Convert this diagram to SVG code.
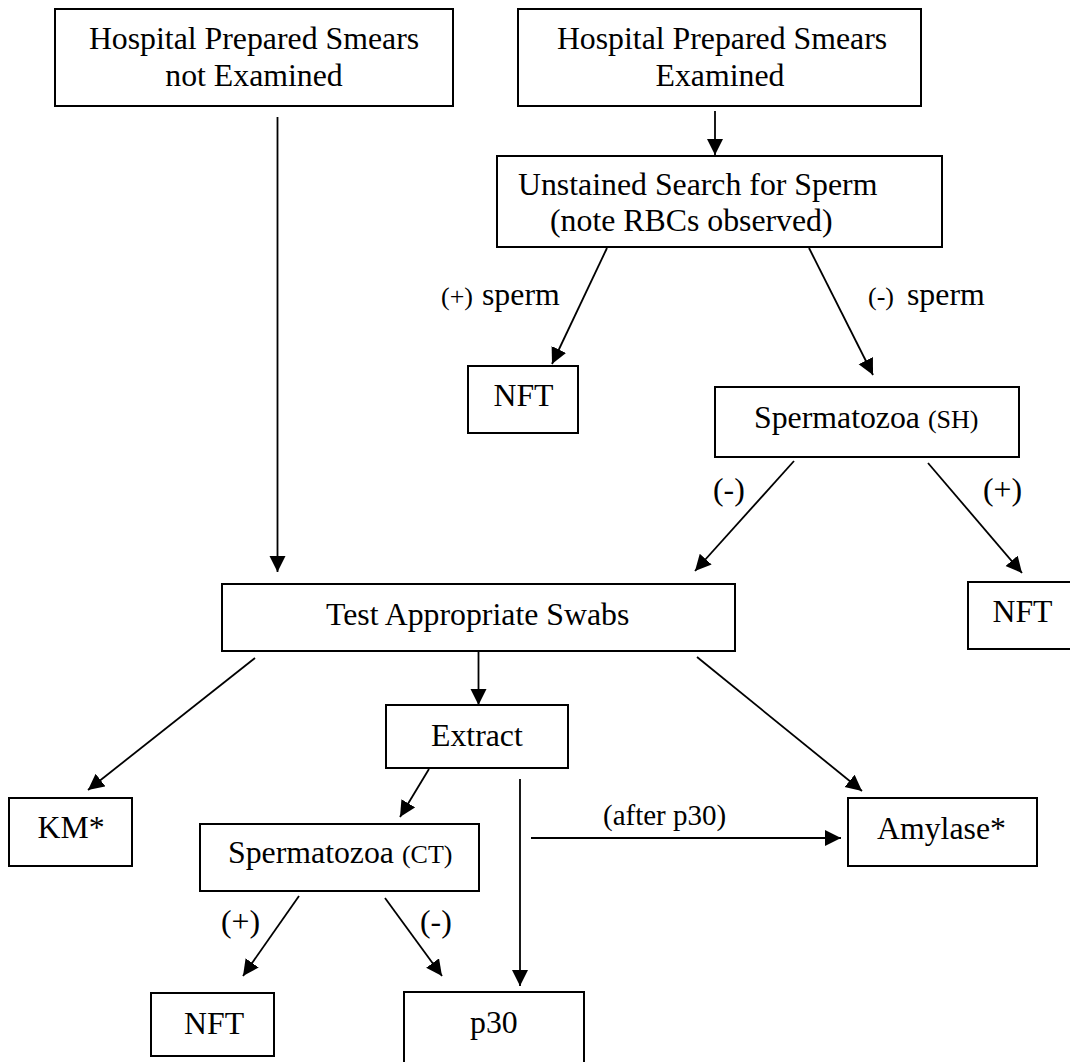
<svg xmlns="http://www.w3.org/2000/svg" width="1070" height="1062" viewBox="0 0 1070 1062">
<style>
.box{fill:#fff;stroke:#000;stroke-width:2}
text{font-family:"Liberation Serif","Times New Roman",serif;font-size:31.8px;fill:#000}
.sm{font-size:26px}
.lbl{font-size:29px}
.c{text-anchor:middle}
.ln{stroke:#000;stroke-width:1.8;fill:none}
</style>
<defs>
<marker id="ah" markerUnits="userSpaceOnUse" markerWidth="17" markerHeight="17" refX="16" refY="8" orient="auto">
<path d="M0,0 L16,8 L0,16 z" fill="#000"/>
</marker>
</defs>
<rect width="1070" height="1062" fill="#fff"/>
<g id="connectors">
<line class="ln" x1="277.5" y1="117" x2="277.5" y2="572" marker-end="url(#ah)"/>
<line class="ln" x1="715" y1="111" x2="715" y2="155" marker-end="url(#ah)"/>
<line class="ln" x1="607" y1="248" x2="552" y2="364" marker-end="url(#ah)"/>
<line class="ln" x1="809" y1="248" x2="873" y2="375" marker-end="url(#ah)"/>
<line class="ln" x1="794" y1="461" x2="695" y2="571" marker-end="url(#ah)"/>
<line class="ln" x1="928" y1="463" x2="1022" y2="573" marker-end="url(#ah)"/>
<line class="ln" x1="255" y1="658" x2="88" y2="790" marker-end="url(#ah)"/>
<line class="ln" x1="478.5" y1="651" x2="478.5" y2="705" marker-end="url(#ah)"/>
<line class="ln" x1="697" y1="657" x2="862" y2="791" marker-end="url(#ah)"/>
<line class="ln" x1="429" y1="769" x2="400" y2="817" marker-end="url(#ah)"/>
<line class="ln" x1="520" y1="779" x2="520" y2="986" marker-end="url(#ah)"/>
<line class="ln" x1="531" y1="838" x2="841" y2="838" marker-end="url(#ah)"/>
<line class="ln" x1="299" y1="896" x2="243" y2="976" marker-end="url(#ah)"/>
<line class="ln" x1="385" y1="898" x2="442" y2="976" marker-end="url(#ah)"/>
<text x="441" y="305"><tspan class="sm">(+)</tspan><tspan x="482">sperm</tspan></text>
<text x="868" y="305"><tspan class="sm">(-)</tspan><tspan x="907">sperm</tspan></text>
<text x="713" y="500">(-)</text>
<text x="983" y="500">(+)</text>
<text class="lbl" x="603" y="825">(after p30)</text>
<text x="221" y="932">(+)</text>
<text x="420" y="932">(-)</text>
</g>
<g id="smears-not-examined">
<rect class="box" x="55" y="9" width="398" height="97"/>
<text class="c" x="254" y="49">Hospital Prepared Smears</text>
<text class="c" x="254" y="86">not Examined</text>
</g>
<g id="smears-examined">
<rect class="box" x="518" y="9" width="403" height="97"/>
<text class="c" x="722" y="49">Hospital Prepared Smears</text>
<text class="c" x="720" y="86">Examined</text>
</g>
<g id="unstained-search">
<rect class="box" x="497" y="156" width="445" height="91"/>
<text x="518" y="195">Unstained Search for Sperm</text>
<text x="550" y="231">(note RBCs observed)</text>
</g>
<g id="nft-1">
<rect class="box" x="468" y="366" width="110" height="67"/>
<text class="c" x="523.5" y="406">NFT</text>
</g>
<g id="spermatozoa-sh">
<rect class="box" x="715" y="387" width="304" height="70"/>
<text x="754" y="428">Spermatozoa <tspan class="sm">(SH)</tspan></text>
</g>
<g id="nft-2">
<rect class="box" x="968" y="582" width="112" height="67"/>
<text class="c" x="1022.5" y="622">NFT</text>
</g>
<g id="test-swabs">
<rect class="box" x="222" y="584" width="513" height="67"/>
<text x="326" y="625">Test Appropriate Swabs</text>
</g>
<g id="extract">
<rect class="box" x="386" y="705" width="182" height="63"/>
<text x="431" y="746">Extract</text>
</g>
<g id="km">
<rect class="box" x="9" y="798" width="123" height="68"/>
<text x="37.5" y="838">KM*</text>
</g>
<g id="amylase">
<rect class="box" x="848" y="798" width="189" height="68"/>
<text x="877" y="839">Amylase*</text>
</g>
<g id="spermatozoa-ct">
<rect class="box" x="200" y="824" width="279" height="67"/>
<text x="228" y="863">Spermatozoa <tspan class="sm">(CT)</tspan></text>
</g>
<g id="nft-3">
<rect class="box" x="151" y="993" width="123" height="63"/>
<text x="184" y="1034">NFT</text>
</g>
<g id="p30">
<rect class="box" x="404" y="992" width="180" height="80"/>
<text x="470" y="1033">p30</text>
</g>
</svg>
